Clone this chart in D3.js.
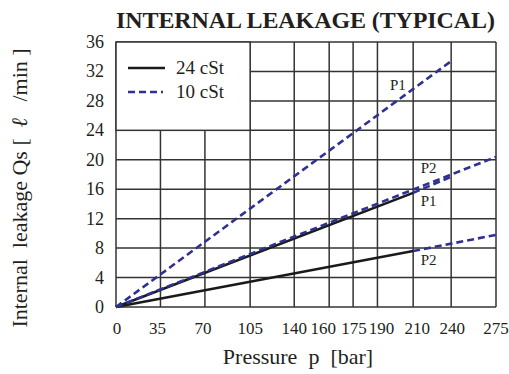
<!DOCTYPE html>
<html><head><meta charset="utf-8">
<script src="https://cdn.jsdelivr.net/npm/d3@7"></script>
<style>
html,body{margin:0;padding:0;background:#fff;}
svg{display:block;}
text{font-family:"Liberation Serif","Times New Roman",serif;fill:#231f20;}
</style></head>
<body>
<svg id="chart" width="509" height="374"></svg>
<script>
// ---- data ----
const xTicks = [0, 35, 70, 105, 140, 160, 175, 190, 210, 240, 275];
const yTicks = [0, 4, 8, 12, 16, 20, 24, 28, 32, 36];
const seriesNames = ["24 cSt", "10 cSt"];
// 24 cSt (solid)
const solidP1 = [[0, 0], [210, 15.5]];
const solidP2 = [[0, 0], [210, 7.6]];
// 10 cSt (dashed)
const dashP1 = [[0, 0], [240, 33.4]];
const dashP2 = [[0, 0], [275, 20.4]];
const dashP1ext = [[210, 15.5], [240, 17.7]];
const dashP2ext = [[210, 7.6], [275, 9.8]];
const labelText = ["P1", "P2", "P1", "P2"];
const labelP = [197, 216, 216, 216];
const labelQ = [29.5, 18.2, 13.7, 5.7];
const legendCorner = [105, 24];

// ---- layout ----
const svg = d3.select("#chart");
const mLeft = 116, mRight = 496, mTop = 42, mBottom = 307;
// the original's pressure axis is not uniformly spaced
const xRangeFrac = [0, 0.117, 0.234, 0.353, 0.469, 0.561, 0.624, 0.688, 0.782, 0.882, 1];
const x = d3.scaleLinear().domain(xTicks).range(xRangeFrac.map(f => mLeft + f * (mRight - mLeft)));
const y = d3.scaleLinear().domain([0, 36]).range([mBottom, mTop]);
const xLabelNudge = [1, -3, -2, 0, 0, -6, 1, 4, 4, 1, 0];

const gridColor = "#333";
const blue = "#2e3192";

// grid
const g = svg.append("g");
g.selectAll("line.v").data(xTicks).join("line")
  .attr("x1", d => x(d)).attr("x2", d => x(d))
  .attr("y1", y(0)).attr("y2", y(36))
  .attr("stroke", gridColor).attr("stroke-width", 1.5);
g.selectAll("line.h").data(yTicks).join("line")
  .attr("x1", x(0)).attr("x2", x(275))
  .attr("y1", d => y(d)).attr("y2", d => y(d))
  .attr("stroke", gridColor).attr("stroke-width", 1.5);

// legend box (covers grid)
svg.append("rect")
  .attr("x", x(0)).attr("y", y(36))
  .attr("width", x(legendCorner[0]) - x(0)).attr("height", y(legendCorner[1]) - y(36))
  .attr("fill", "#fff").attr("stroke", gridColor).attr("stroke-width", 1.5);

// lines
const line = d3.line().x(d => x(d[0])).y(d => y(d[1]));
[solidP1, solidP2].forEach(s => svg.append("path").attr("d", line(s))
  .attr("fill", "none").attr("stroke", "#1a1a1a").attr("stroke-width", 2.6));
[dashP1, dashP2, dashP1ext, dashP2ext].forEach(s => svg.append("path").attr("d", line(s))
  .attr("fill", "none").attr("stroke", blue).attr("stroke-width", 2.6)
  .attr("stroke-dasharray", "7,4"));

// P labels
svg.selectAll("text.pl").data(labelText).join("text")
  .attr("x", (d, i) => x(labelP[i])).attr("y", (d, i) => y(labelQ[i]))
  .attr("font-size", 15).text(d => d);

// axes tick labels
svg.selectAll("text.yt").data(yTicks).join("text")
  .attr("x", 104).attr("y", d => y(d) + 6)
  .attr("text-anchor", "end").attr("font-size", 18).text(d => d);
svg.selectAll("text.xt").data(xTicks).join("text")
  .attr("x", (d, i) => x(d) + xLabelNudge[i]).attr("y", 334)
  .attr("text-anchor", "middle").attr("font-size", 17).text(d => d);

// legend
const lg = svg.append("g");
lg.append("line").attr("x1", 128).attr("x2", 165).attr("y1", 68).attr("y2", 68)
  .attr("stroke", "#1a1a1a").attr("stroke-width", 2.6);
lg.append("line").attr("x1", 128).attr("x2", 163).attr("y1", 92).attr("y2", 92)
  .attr("stroke", blue).attr("stroke-width", 2.6).attr("stroke-dasharray", "7,4");
lg.append("text").attr("x", 176).attr("y", 74).attr("font-size", 19).text(seriesNames[0]);
lg.append("text").attr("x", 176).attr("y", 98).attr("font-size", 19).text(seriesNames[1]);

// titles
svg.append("text").attr("x", 305.5).attr("y", 28).attr("text-anchor", "middle")
  .attr("font-size", 24).attr("font-weight", "bold")
  .attr("textLength", 379).attr("lengthAdjust", "spacing")
  .text("INTERNAL LEAKAGE (TYPICAL)");
svg.append("text").attr("x", 298).attr("y", 364).attr("text-anchor", "middle")
  .attr("font-size", 22).style("white-space", "pre")
  .text("Pressure  p  [bar]");
const yTitle = svg.append("text").attr("transform", "translate(27,188) rotate(-90)")
  .attr("text-anchor", "middle").attr("font-size", 22).style("white-space", "pre");
yTitle.append("tspan").text("Internal  leakage Qs [  ");
yTitle.append("tspan").attr("font-style", "italic").text("ℓ");
yTitle.append("tspan").text("   /min ]");
</script>
</body></html>
